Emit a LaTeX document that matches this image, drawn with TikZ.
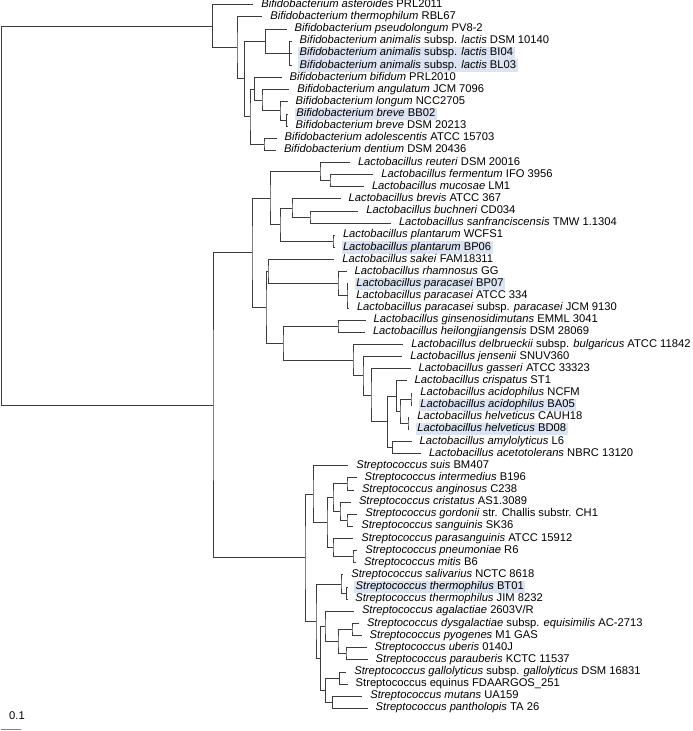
\documentclass[tikz,border=0pt]{standalone}
\usepackage{fontspec}
\setmainfont{Liberation Sans}
\usepackage{xcolor}
\usepackage{tikz}
\usetikzlibrary{calc}
\definecolor{hlblue}{RGB}{220,228,242}
\definecolor{branchgray}{RGB}{60,60,60}
% internal node: name, x, first child, last child
\newcommand\brnode[4]{\path let \p1=($(#3)!.5!(#4)$) in (#2pt,\y1) coordinate (#1);}
\newcommand\clade[3]{\draw[branch] (#2) -| (#1) |- (#3);}

\begin{document}
\begin{tikzpicture}[x=1pt,y=-1pt,every node/.style={font=\fontsize{11.2}{13}\selectfont},
  branch/.style={draw=branchgray,line width=0.9pt},
  leaf/.style={anchor=west,xshift=6.5pt,inner xsep=1.5pt,inner ysep=0.9pt,text height=7.8pt,text depth=2.6pt}]
\useasboundingbox (0,0) rectangle (693,731);
% leaves: name/row/tip x/fill/label
\foreach \nm/\i/\tx/\fc/\lab in {
 bast/0/253.2/none/{\textit{Bifidobacterium asteroides} PRL2011},
 bthe/1/262.2/none/{\textit{Bifidobacterium thermophilum} RBL67},
 bpse/2/286.5/none/{\textit{Bifidobacterium pseudolongum} PV8-2},
 banD/3/291.5/none/{\textit{Bifidobacterium animalis} subsp. \textit{lactis} DSM 10140},
 banI/4/291.5/hlblue/{\textit{Bifidobacterium animalis} subsp. \textit{lactis} BI04},
 banL/5/291.5/hlblue/{\textit{Bifidobacterium animalis} subsp. \textit{lactis} BL03},
 bbif/6/281.5/none/{\textit{Bifidobacterium bifidum} PRL2010},
 bang/7/289.2/none/{\textit{Bifidobacterium angulatum} JCM 7096},
 blon/8/287.5/none/{\textit{Bifidobacterium longum} NCC2705},
 bbre2/9/288.2/hlblue/{\textit{Bifidobacterium breve} BB02},
 bbre/10/287.5/none/{\textit{Bifidobacterium breve} DSM 20213},
 bado/11/276.5/none/{\textit{Bifidobacterium adolescentis} ATCC 15703},
 bden/12/275.8/none/{\textit{Bifidobacterium dentium} DSM 20436},
 lreu/13/349.8/none/{\textit{Lactobacillus reuteri} DSM 20016},
 lfer/14/373.2/none/{\textit{Lactobacillus fermentum} IFO 3956},
 lmuc/15/363.8/none/{\textit{Lactobacillus mucosae} LM1},
 lbre/16/340.5/none/{\textit{Lactobacillus brevis} ATCC 367},
 lbuc/17/358.2/none/{\textit{Lactobacillus buchneri} CD034},
 lsan/18/390.8/none/{\textit{Lactobacillus sanfranciscensis} TMW 1.1304},
 lplW/19/334.8/none/{\textit{Lactobacillus plantarum} WCFS1},
 lplB/20/334.8/hlblue/{\textit{Lactobacillus plantarum} BP06},
 lsak/21/334.2/none/{\textit{Lactobacillus sakei} FAM18311},
 lrha/22/346.5/none/{\textit{Lactobacillus rhamnosus} GG},
 lpaB/23/348.2/hlblue/{\textit{Lactobacillus paracasei} BP07},
 lpaA/24/348.2/none/{\textit{Lactobacillus paracasei} ATCC 334},
 lpaS/25/348.8/none/{\textit{Lactobacillus paracasei} subsp. \textit{paracasei} JCM 9130},
 lgin/26/365.5/none/{\textit{Lactobacillus ginsenosidimutans} EMML 3041},
 lhei/27/364.8/none/{\textit{Lactobacillus heilongjiangensis} DSM 28069},
 ldel/28/403.2/none/{\textit{Lactobacillus delbrueckii} subsp. \textit{bulgaricus} ATCC 11842},
 ljen/29/402.2/none/{\textit{Lactobacillus jensenii} SNUV360},
 lgas/30/410.5/none/{\textit{Lactobacillus gasseri} ATCC 33323},
 lcri/31/406.5/none/{\textit{Lactobacillus crispatus} ST1},
 lacN/32/412.2/none/{\textit{Lactobacillus acidophilus} NCFM},
 lacB/33/412.2/hlblue/{\textit{Lactobacillus acidophilus} BA05},
 lheC/34/409.2/none/{\textit{Lactobacillus helveticus} CAUH18},
 lheB/35/409.2/hlblue/{\textit{Lactobacillus helveticus} BD08},
 lamy/36/411.5/none/{\textit{Lactobacillus amylolyticus} L6},
 lace/37/420.8/none/{\textit{Lactobacillus acetotolerans} NBRC 13120},
 ssui/38/348.2/none/{\textit{Streptococcus suis} BM407},
 sint/39/356.5/none/{\textit{Streptococcus intermedius} B196},
 sang/40/353.8/none/{\textit{Streptococcus anginosus} C238},
 scri/41/350.8/none/{\textit{Streptococcus cristatus} AS1.3089},
 sgor/42/357.2/none/{\textit{Streptococcus gordonii} str. Challis substr. CH1},
 ssan/43/353.2/none/{\textit{Streptococcus sanguinis} SK36},
 spar/44/353.2/none/{\textit{Streptococcus parasanguinis} ATCC 15912},
 spne/45/357.2/none/{\textit{Streptococcus pneumoniae} R6},
 smit/46/355.8/none/{\textit{Streptococcus mitis} B6},
 ssal/47/343.2/none/{\textit{Streptococcus salivarius} NCTC 8618},
 sthB/48/347.5/hlblue/{\textit{Streptococcus thermophilus} BT01},
 sthJ/49/347.2/none/{\textit{Streptococcus thermophilus} JIM 8232},
 saga/50/353.8/none/{\textit{Streptococcus agalactiae} 2603V/R},
 sdys/51/358.8/none/{\textit{Streptococcus dysgalactiae} subsp. \textit{equisimilis} AC-2713},
 spyo/52/361.5/none/{\textit{Streptococcus pyogenes} M1 GAS},
 sube/53/366.5/none/{\textit{Streptococcus uberis} 0140J},
 spau/54/367.5/none/{\textit{Streptococcus parauberis} KCTC 11537},
 sgal/55/346.2/none/{\textit{Streptococcus gallolyticus} subsp. \textit{gallolyticus} DSM 16831},
 sequ/56/347.5/none/{Streptococcus equinus FDAARGOS\_251},
 smut/57/362.2/none/{\textit{Streptococcus mutans} UA159},
 span/58/367.5/none/{\textit{Streptococcus pantholopis} TA 26}}
 {\coordinate (\nm) at (\tx,{4.8+12.13*\i});
  \node[leaf,fill=\fc] (\nm-t) at (\nm) {\lab};}

% Bifidobacterium
\brnode{nanim}{289.5}{banD}{banL} \brnode{n3}{265.5}{bpse}{nanim}
\brnode{n5c}{286.5}{bbre2}{bbre} \brnode{n5b}{280}{blon}{n5c}
\brnode{n5a}{262}{bang}{n5b} \brnode{n5}{254.5}{bbif}{n5a}
\brnode{n6}{264}{bado}{bden} \brnode{n4}{250}{n5}{n6}
\brnode{n2}{244.5}{n3}{n4} \brnode{n1}{237}{bthe}{n2}
\brnode{nbif}{212.5}{bast}{n1}
% Lactobacillus
\brnode{lfm}{330}{lfer}{lmuc} \brnode{lr}{320}{lreu}{lfm}
\brnode{ld}{310}{lbuc}{lsan} \brnode{lc}{292}{lbre}{ld}
\brnode{lpl}{333}{lplW}{lplB} \brnode{lb}{280}{lc}{lpl}
\brnode{la}{270}{lr}{lb}
\brnode{lpar}{347}{lpaB}{lpaS} \brnode{lp}{338}{lrha}{lpar}
\brnode{ls}{268}{lsak}{lp} \brnode{lg}{338}{lgin}{lhei}
\brnode{lac}{411}{lacN}{lacB} \brnode{lhe}{408}{lheC}{lheB}
\brnode{lah}{400}{lac}{lhe} \brnode{lacr}{396.5}{lcri}{lah}
\brnode{lam}{392.5}{lamy}{lace} \brnode{lcr}{387.5}{lacr}{lam}
\brnode{lga}{371}{lgas}{lcr} \brnode{lj}{363}{ljen}{lga}
\brnode{ld2}{353}{ldel}{lj} \brnode{le2}{283}{lg}{ld2}
\brnode{le}{266}{ls}{le2} \brnode{l0}{252}{la}{le}
% Streptococcus
\brnode{sia}{347}{sint}{sang} \brnode{sgs}{347}{sgor}{ssan}
\brnode{scg}{340}{scri}{sgs} \brnode{sic}{333}{sia}{scg}
\brnode{spm}{353}{spne}{smit} \brnode{spp}{333}{spar}{spm}
\brnode{sm}{327}{sic}{spp} \brnode{ssu}{313}{ssui}{sm}
\brnode{sbj}{346.5}{sthB}{sthJ} \brnode{st}{341}{ssal}{sbj}
\brnode{sdp}{352}{sdys}{spyo} \brnode{sup}{346}{sube}{spau}
\brnode{sdu}{338}{sdp}{sup} \brnode{sag}{325}{saga}{sdu}
\brnode{sge}{339.5}{sgal}{sequ} \brnode{smp}{332.7}{smut}{span}
\brnode{sgm}{325.5}{sge}{smp} \brnode{sr}{320.7}{sag}{sgm}
\brnode{sb}{316}{st}{sr} \brnode{s0}{305}{ssu}{sb}
\brnode{nls}{213}{l0}{s0} \brnode{root}{1.5}{nbif}{nls}

\foreach \p/\a/\b in {nanim/banD/banL,n3/bpse/nanim,n5c/bbre2/bbre,n5b/blon/n5c,n5a/bang/n5b,
  n5/bbif/n5a,n6/bado/bden,n4/n5/n6,n2/n3/n4,n1/bthe/n2,nbif/bast/n1,
  lfm/lfer/lmuc,lr/lreu/lfm,ld/lbuc/lsan,lc/lbre/ld,lpl/lplW/lplB,lb/lc/lpl,la/lr/lb,
  lpar/lpaB/lpaS,lp/lrha/lpar,ls/lsak/lp,lg/lgin/lhei,lac/lacN/lacB,lhe/lheC/lheB,
  lah/lac/lhe,lacr/lcri/lah,lam/lamy/lace,lcr/lacr/lam,lga/lgas/lcr,lj/ljen/lga,
  ld2/ldel/lj,le2/lg/ld2,le/ls/le2,l0/la/le,
  sia/sint/sang,sgs/sgor/ssan,scg/scri/sgs,sic/sia/scg,spm/spne/smit,spp/spar/spm,
  sm/sic/spp,ssu/ssui/sm,sbj/sthB/sthJ,st/ssal/sbj,sdp/sdys/spyo,sup/sube/spau,
  sdu/sdp/sup,sag/saga/sdu,sge/sgal/sequ,smp/smut/span,sgm/sge/smp,sr/sag/sgm,
  sb/st/sr,s0/ssu/sb,nls/l0/s0,root/nbif/nls}
  {\clade{\p}{\a}{\b}}
\draw[branch] (nanim |- banI) -- (banI);
\draw[branch] (lpar |- lpaA) -- (lpaA);

% scale bar
\node (sbl) at (17,716) {0.1};
\coordinate (sba) at (1,729.5);
\coordinate (sbb) at (21,729.5);
\draw[draw=gray,line width=0.9pt] (sba) -- (sbb);
\end{tikzpicture}
\end{document}
